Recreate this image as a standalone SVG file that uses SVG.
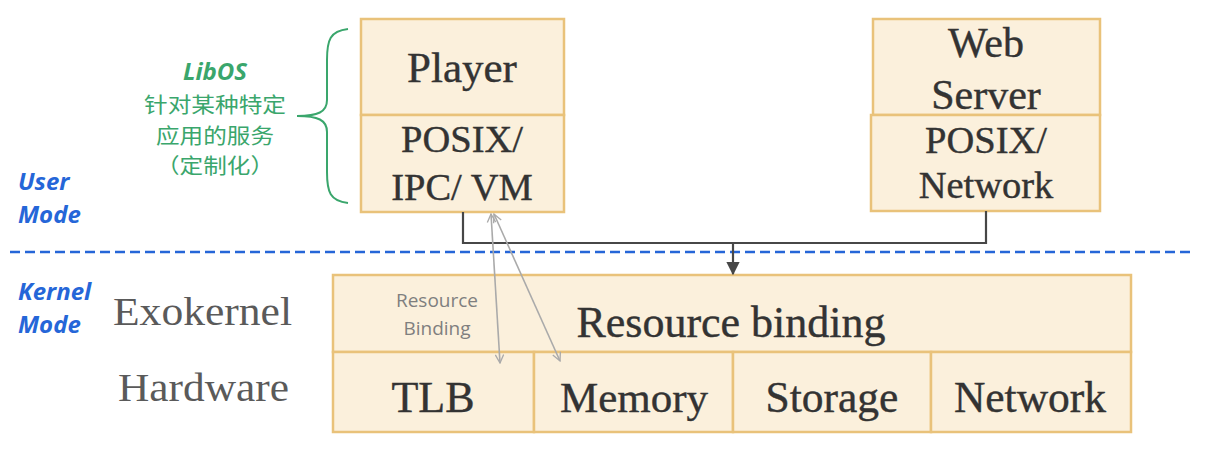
<svg xmlns="http://www.w3.org/2000/svg" width="1210" height="460" viewBox="0 0 1210 460">
<style>
.box{fill:#fbf0dc;stroke:#e9c27a;stroke-width:2.5}
.ser{font-family:"Liberation Serif","Times New Roman",serif;fill:#333333;stroke:#333333;stroke-width:0.4;text-anchor:middle}
.side{font-family:"Liberation Serif","Times New Roman",serif;fill:#5a5a5a}
.mode{font-family:"Open Sans","Liberation Sans",sans-serif;font-weight:bold;font-style:italic;font-size:24px;fill:#2566d8}
.green{font-family:"Noto Sans CJK SC","Noto Sans",sans-serif;fill:#3aa66c;text-anchor:middle;font-size:21px}
.conn{fill:none;stroke:#474747;stroke-width:2.2}
.gray{fill:none;stroke:#aaaaaa;stroke-width:1.6}
</style>
<defs>
<marker id="ah" viewBox="0 0 10 10" refX="9" refY="5" markerWidth="6" markerHeight="6" orient="auto"><path d="M0,0 L10,5 L0,10 z" fill="#474747"/></marker>
<marker id="ga" viewBox="0 0 12 12" refX="11" refY="6" markerWidth="10" markerHeight="10" markerUnits="userSpaceOnUse" orient="auto-start-reverse"><path d="M1,1 L11,6 L1,11" fill="none" stroke="#aaaaaa" stroke-width="1.6"/></marker>
</defs>

<!-- mode labels and dashed separator -->
<line x1="10" y1="252" x2="1193" y2="252" stroke="#2566d8" stroke-width="2.5" stroke-dasharray="10 5"/>
<text class="mode" x="18" y="190">User</text>
<text class="mode" x="18" y="223">Mode</text>
<text class="mode" x="18" y="300">Kernel</text>
<text class="mode" x="18" y="333">Mode</text>

<g id="libos-label">
<text x="215" y="80" font-family="Open Sans, Liberation Sans, sans-serif" font-weight="bold" font-style="italic" font-size="24" fill="#3aa66c" text-anchor="middle">LibOS</text>
<text class="green" x="215" y="112" textLength="142" lengthAdjust="spacingAndGlyphs">针对某种特定</text>
<text class="green" x="215" y="142.5" textLength="118" lengthAdjust="spacingAndGlyphs">应用的服务</text>
<text class="green" x="215" y="173" textLength="118" lengthAdjust="spacingAndGlyphs">（定制化）</text>
<path d="M348,29 C330,31 327,40 327,60 L327,100 C327,112 318,116 297,116 C318,116 327,120 327,132 L327,172 C327,192 330,201 348,203" fill="none" stroke="#3aa66c" stroke-width="2"/>
</g>

<text class="side" x="113" y="325" font-size="40" textLength="179" lengthAdjust="spacingAndGlyphs">Exokernel</text>
<text class="side" x="118" y="401" font-size="40" textLength="171" lengthAdjust="spacingAndGlyphs">Hardware</text>

<g id="player">
<rect class="box" x="361" y="19" width="203" height="96"/>
<text class="ser" x="462" y="82" font-size="43">Player</text>
</g>
<g id="posix-ipc-vm">
<rect class="box" x="361" y="115" width="203" height="97"/>
<text class="ser" x="462" y="152" font-size="38.5">POSIX/</text>
<text class="ser" x="462" y="200" font-size="38.5">IPC/ VM</text>
</g>
<g id="web-server">
<rect class="box" x="873" y="19" width="227" height="96"/>
<text class="ser" x="986" y="57" font-size="42">Web</text>
<text class="ser" x="986" y="109" font-size="42">Server</text>
</g>
<g id="posix-network">
<rect class="box" x="871" y="115" width="229" height="96"/>
<text class="ser" x="986" y="153" font-size="38.5">POSIX/</text>
<text class="ser" x="986" y="198" font-size="38.5">Network</text>
</g>

<g id="resource-binding">
<rect class="box" x="333" y="275" width="798" height="77"/>
<text class="ser" x="731" y="337" font-size="44">Resource binding</text>
<text x="437" y="307" font-family="Open Sans, Liberation Sans, sans-serif" font-size="19" fill="#7f7f7f" text-anchor="middle">Resource</text>
<text x="437" y="335" font-family="Open Sans, Liberation Sans, sans-serif" font-size="19" fill="#7f7f7f" text-anchor="middle">Binding</text>
</g>
<g id="tlb">
<rect class="box" x="333" y="352" width="201" height="80"/>
<text class="ser" x="433" y="412" font-size="44">TLB</text>
</g>
<g id="memory">
<rect class="box" x="534" y="352" width="199" height="80"/>
<text class="ser" x="634" y="412" font-size="43">Memory</text>
</g>
<g id="storage">
<rect class="box" x="733" y="352" width="198" height="80"/>
<text class="ser" x="832" y="412" font-size="43.5">Storage</text>
</g>
<g id="network">
<rect class="box" x="931" y="352" width="200" height="80"/>
<text class="ser" x="1030" y="412" font-size="43.5">Network</text>
</g>

<g id="connectors">
<path class="conn" d="M463,212 V243 H986 V211"/>
<path class="conn" d="M733,243 V274" marker-end="url(#ah)"/>
<line class="gray" x1="491" y1="214" x2="500" y2="363" marker-start="url(#ga)" marker-end="url(#ga)"/>
<line class="gray" x1="494" y1="214" x2="560" y2="361" marker-start="url(#ga)" marker-end="url(#ga)"/>
</g>
</svg>
